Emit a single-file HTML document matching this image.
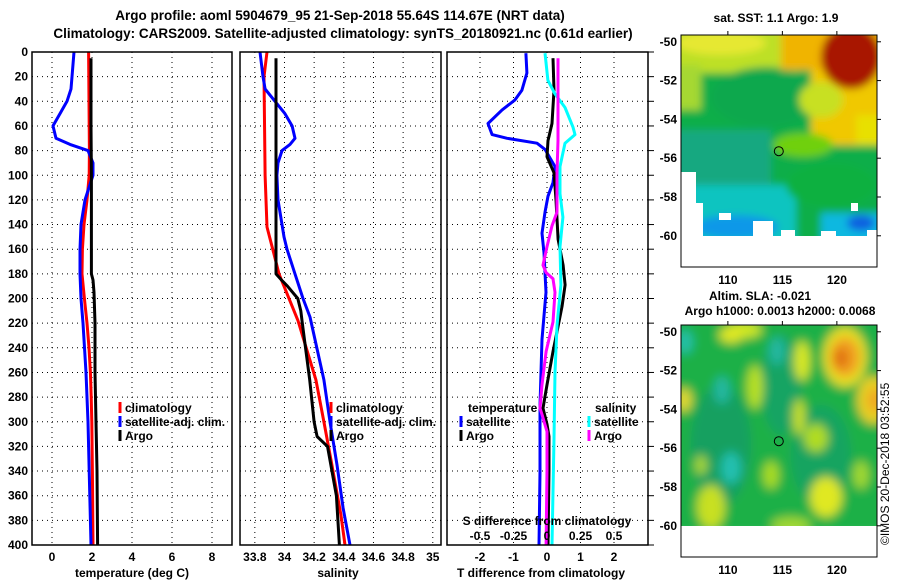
<!DOCTYPE html>
<html><head><meta charset="utf-8"><style>
html,body{margin:0;padding:0;background:#fff}
svg{display:block;font-family:"Liberation Sans",Arial,sans-serif;font-weight:bold}
text{fill:#000}
</style></head><body>
<svg id="fig" width="900" height="580" viewBox="0 0 900 580">
<defs>
<filter id="blur4" filterUnits="userSpaceOnUse" x="-30" y="-30" width="260" height="270"><feGaussianBlur stdDeviation="5"/></filter>
<filter id="blur3" filterUnits="userSpaceOnUse" x="-30" y="-30" width="260" height="270"><feGaussianBlur stdDeviation="4"/></filter>
<clipPath id="clip1"><rect x="0" y="0" width="196" height="201"/></clipPath>
<clipPath id="clip2"><rect x="0" y="0" width="196" height="201"/></clipPath>
</defs>
<text x="340" y="20" font-size="13.5" text-anchor="middle">Argo profile: aoml 5904679_95 21-Sep-2018 55.64S 114.67E (NRT data)</text>
<text x="343" y="38" font-size="13.5" text-anchor="middle">Climatology: CARS2009. Satellite-adjusted climatology: synTS_20180921.nc (0.61d earlier)</text>
<g id="plots"></g>

<!-- Map 1: SST -->
<text x="776" y="22" font-size="12" text-anchor="middle">sat. SST: 1.1 Argo: 1.9</text>
<g transform="translate(681,35)">
 <g clip-path="url(#clip1)">
 <g filter="url(#blur3)">
  <rect x="-10" y="-10" width="216" height="220" fill="#0cae4a"/>
  <rect x="-10" y="-10" width="125" height="48" fill="#bde028"/>
  <ellipse cx="40" cy="8" rx="45" ry="12" fill="#e6e830"/>
  <rect x="-10" y="30" width="30" height="45" fill="#a6d832"/>
  <ellipse cx="85" cy="62" rx="55" ry="30" fill="#0aa84e"/>
  <rect x="100" y="-10" width="110" height="45" fill="#f0b400"/>
  <rect x="130" y="35" width="80" height="75" fill="#f0c800"/>
  <ellipse cx="170" cy="22" rx="30" ry="32" fill="#a81400"/>
  <ellipse cx="140" cy="65" rx="22" ry="18" fill="#c8e020"/>
  <rect x="175" y="80" width="30" height="30" fill="#e8e000"/>
  <ellipse cx="122" cy="110" rx="30" ry="12" fill="#70d010"/>
  <rect x="-10" y="95" width="100" height="60" fill="#18a880"/>
  <rect x="-10" y="150" width="125" height="60" fill="#10c4c0"/>
  <ellipse cx="55" cy="192" rx="42" ry="12" fill="#1098e8"/>
  <rect x="140" y="178" width="70" height="30" fill="#10b8e0"/>
  <ellipse cx="180" cy="188" rx="14" ry="8" fill="#1060e0"/>
  <ellipse cx="150" cy="150" rx="45" ry="22" fill="#0cb040"/>
 </g>
 </g>
 <rect x="0" y="137" width="15" height="100" fill="#fff"/>
 <rect x="0" y="168" width="22" height="70" fill="#fff"/>
 <rect x="0" y="201" width="196" height="31" fill="#fff"/>
 <rect x="38" y="178" width="12" height="7" fill="#fff"/>
 <rect x="72" y="186" width="20" height="15" fill="#fff"/>
 <rect x="100" y="195" width="14" height="6" fill="#fff"/>
 <rect x="170" y="168" width="7" height="8" fill="#fff"/>
 <rect x="140" y="196" width="15" height="5" fill="#fff"/>
 <rect x="186" y="195" width="10" height="6" fill="#fff"/>
 <rect x="0" y="0" width="196" height="232" fill="none" stroke="#000" stroke-width="1"/>
 <circle cx="97.8" cy="116.2" r="4.5" fill="none" stroke="#000" stroke-width="1"/>
</g>

<!-- Map 2: SLA -->
<text x="760" y="300" font-size="12" text-anchor="middle">Altim. SLA: -0.021</text>
<text x="780" y="315" font-size="12" text-anchor="middle">Argo h1000: 0.0013 h2000: 0.0068</text>
<g transform="translate(681,325)">
 <g clip-path="url(#clip2)">
 <g filter="url(#blur4)">
  <rect x="-10" y="-10" width="216" height="220" fill="#1eb046"/>
  <ellipse cx="40" cy="120" rx="30" ry="60" fill="#14a060"/>
  <ellipse cx="140" cy="130" rx="30" ry="50" fill="#14a460"/>
  <ellipse cx="100" cy="60" rx="20" ry="50" fill="#14a464"/>
  <ellipse cx="164" cy="32" rx="22" ry="30" fill="#e8e020"/>
  <ellipse cx="164" cy="32" rx="15" ry="20" fill="#f0a020"/>
  <ellipse cx="160" cy="33" rx="7" ry="10" fill="#e07010"/>
  <ellipse cx="192" cy="75" rx="16" ry="24" fill="#e8d020"/>
  <ellipse cx="194" cy="75" rx="8" ry="12" fill="#f0a820"/>
  <ellipse cx="121" cy="36" rx="8" ry="20" fill="#d8e820"/>
  <ellipse cx="74" cy="62" rx="8" ry="22" fill="#b8e020"/>
  <ellipse cx="63" cy="5" rx="18" ry="8" fill="#d0e820"/>
  <ellipse cx="118" cy="92" rx="6" ry="18" fill="#c8e020"/>
  <ellipse cx="145" cy="172" rx="16" ry="20" fill="#e0e820"/>
  <ellipse cx="30" cy="182" rx="14" ry="22" fill="#c8e020"/>
  <ellipse cx="3" cy="75" rx="8" ry="12" fill="#e0d830"/>
  <ellipse cx="135" cy="113" rx="12" ry="14" fill="#b0dc20"/>
  <ellipse cx="90" cy="150" rx="8" ry="14" fill="#a8dc20"/>
  <ellipse cx="180" cy="150" rx="8" ry="14" fill="#a0d830"/>
  <ellipse cx="20" cy="140" rx="6" ry="10" fill="#a8d830"/>
  <ellipse cx="50" cy="143" rx="10" ry="16" fill="#20c0b0"/>
  <ellipse cx="4" cy="17" rx="8" ry="12" fill="#20c0a8"/>
  <ellipse cx="41" cy="65" rx="8" ry="14" fill="#20b8a0"/>
  <ellipse cx="96" cy="26" rx="8" ry="14" fill="#20b8a0"/>
  <ellipse cx="50" cy="10" rx="12" ry="8" fill="#e0e820"/>
  <ellipse cx="110" cy="200" rx="20" ry="8" fill="#a0d830"/>
 </g>
 </g>
 <rect x="0" y="201" width="196" height="31" fill="#fff"/>
 <rect x="0" y="0" width="196" height="232" fill="none" stroke="#000" stroke-width="1"/>
 <circle cx="97.8" cy="116.2" r="4.5" fill="none" stroke="#000" stroke-width="1"/>
</g>
<text transform="translate(889,545) rotate(-90)" font-size="12" font-weight="normal">©IMOS 20-Dec-2018 03:52:55</text>
</svg>
<script>
// ---- data ----
const climDepth = [0,20,40,60,80,100,120,140,160,180,200,220,240,260,280,300,340,400];
const climT = [1.83,1.84,1.85,1.86,1.87,1.86,1.75,1.6,1.52,1.5,1.62,1.75,1.85,1.92,1.96,1.99,2.02,2.05];
const satTDepth = [0,20,30,40,50,60,70,75,80,90,100,120,140,160,180,200,220,260,300,400];
const satT = [1.1,1.0,0.95,0.75,0.4,0.05,0.2,0.9,1.8,2.05,2.05,1.65,1.45,1.4,1.4,1.45,1.55,1.7,1.8,1.95];
const argoTDepth = [5,60,100,180,185,195,220,260,300,340,400];
const argoT = [1.95,1.95,1.97,1.97,2.05,2.1,2.15,2.15,2.2,2.25,2.28];

const climSDepth = [0,20,100,142,164,180,196,218,266,300,335,376,400];
const climS = [33.882,33.862,33.869,33.882,33.929,33.963,34.017,34.091,34.212,34.266,34.32,34.381,34.408];
const satSDepth = [0,20,30,40,50,60,70,75,80,90,100,120,140,150,160,180,200,215,266,300,335,370,400];
const satS = [33.835,33.855,33.869,33.936,34.003,34.051,34.071,34.037,33.983,33.956,33.949,33.956,33.983,33.997,34.017,34.071,34.125,34.172,34.266,34.307,34.354,34.395,34.442];
const argoSDepth = [5,180,185,190,200,210,220,266,300,312,320,360,400];
const argoS = [33.943,33.943,33.98,34.02,34.09,34.11,34.12,34.17,34.2,34.22,34.29,34.35,34.37];

const satDTDepth = [1,17,31,39,47,58,67,70,74,79,93,106,117,130,147,163,195,233,287,341,400];
const satDT = [-0.63,-0.6,-0.75,-0.96,-1.34,-1.76,-1.64,-1.19,-0.3,-0.06,0.24,0.18,0.03,-0.06,-0.15,-0.09,-0.03,-0.15,-0.21,-0.21,-0.24];
const argoDTDepth = [5,31,58,72,85,98,120,152,173,189,206,227,243,270,289,302,312,339,400];
const argoDT = [0.18,0.21,0.15,0.03,0,0.21,0.27,0.33,0.48,0.54,0.45,0.3,0.18,0,-0.12,0,0.06,0.06,0.03];
const satDSDepth = [1,23,34,45,61,67,74,93,115,134,158,189,222,260,314,400];
const satDS = [-0.015,0.007,0.06,0.134,0.194,0.209,0.134,0.097,0.097,0.119,0.097,0.104,0.075,0.06,0.052,0.037];
const argoDSDepth = [5,72,98,130,141,158,173,179,184,195,219,243,270,289,294,308,339,400];
const argoDS = [0.082,0.082,0.075,0.075,0.037,0,-0.03,-0.007,0.045,0.06,0.045,-0.007,-0.037,-0.052,-0.037,0,0,-0.007];

const depthTicks = [0,20,40,60,80,100,120,140,160,180,200,220,240,260,280,300,320,340,360,380,400];
const tempTicks = [0,2,4,6,8];
const salTicks = [33.8,34,34.2,34.4,34.6,34.8,35];
const salTickLabels = ["33.8","34","34.2","34.4","34.6","34.8","35"];
const dtTicks = [-2,-1,0,1,2];
const dsTicks = [-0.5,-0.25,0,0.25,0.5];
const dsTickLabels = ["-0.5","-0.25","0","0.25","0.5"];

// ---- axes ----
const yD = d => 52 + d * 1.2325;
const xT = t => 32 + (t + 1) * 20;
const xS = s => 240 + (s - 33.7) * 148.3;
const xDT = t => 547 + t * 33.5;
const xDS = s => 547 + s * 134;

const NS = "http://www.w3.org/2000/svg";
const root = document.getElementById('plots');
function mk(tag, attrs, parent) {
  const e = document.createElementNS(NS, tag);
  for (const k in attrs) e.setAttribute(k, attrs[k]);
  (parent || root).appendChild(e);
  return e;
}
function txt(x, y, s, size, anchor) {
  const t = mk('text', {x: x, y: y, 'font-size': size, 'text-anchor': anchor || 'middle'});
  t.textContent = s;
  return t;
}
function panel(x0, x1, name) {
  const g = mk('g', {});
  
  
  depthTicks.forEach(d => {
    if (d === 0 || d === 400) return;
    const l = mk('line', {x1: x0, x2: x1, y1: yD(d), y2: yD(d), stroke: '#000', 'stroke-width': 1, 'stroke-dasharray': '1,4'}, g);
    
    
  });
  return g;
}
function vgrid(g, x) {
  const l = mk('line', {x1: x, x2: x, y1: 52, y2: 545, stroke: '#000', 'stroke-width': 1, 'stroke-dasharray': '1,4'}, g);
  
  
}
function frame(g, x0, x1) {
  const r = mk('rect', {x: x0, y: 52, width: x1 - x0, height: 493, fill: 'none', stroke: '#000', 'stroke-width': 1.5}, g);
  
  
}
function line(g, xs, ds, fx, color, name) {
  const pts = xs.map((v, i) => fx(v).toFixed(1) + ',' + yD(ds[i]).toFixed(1)).join(' ');
  const p = mk('polyline', {points: pts, fill: 'none', stroke: color, 'stroke-width': 3, 'stroke-linejoin': 'round'}, g);
  
  
}
function legend(x, y, color, label, name) {
  const m = mk('line', {x1: x, x2: x, y1: y - 10, y2: y + 1, stroke: color, 'stroke-width': 3});
  
  
  const t = txt(x + 5, y, label, 12, 'start');
  
  
}

// Panel 1: temperature
const g1 = panel(32, 232, 'temperature-panel');
tempTicks.forEach(t => { vgrid(g1, xT(t)); const l = txt(xT(t), 561, String(t), 12);   });
depthTicks.forEach(d => { const l = txt(28, yD(d) + 4, String(d), 12, 'end');   });
line(g1, climT, climDepth, xT, '#ff0000', 'climatology-temperature-line');
line(g1, satT, satTDepth, xT, '#0000ff', 'satellite-temperature-line');
line(g1, argoT, argoTDepth, xT, '#000000', 'argo-temperature-line');
frame(g1, 32, 232);
const xl1 = txt(132, 577, 'temperature (deg C)', 12);


legend(120, 412, '#ff0000', 'climatology', 'legend-climatology-temperature');
legend(120, 426, '#0000ff', 'satellite-adj. clim.', 'legend-satellite-temperature');
legend(120, 440, '#000000', 'Argo', 'legend-argo-temperature');

// Panel 2: salinity
const g2 = panel(240, 441, 'salinity-panel');
salTicks.forEach((s, i) => { vgrid(g2, xS(s)); const l = txt(xS(s), 561, salTickLabels[i], 12);   });
line(g2, climS, climSDepth, xS, '#ff0000', 'climatology-salinity-line');
line(g2, satS, satSDepth, xS, '#0000ff', 'satellite-salinity-line');
line(g2, argoS, argoSDepth, xS, '#000000', 'argo-salinity-line');
frame(g2, 240, 441);
const xl2 = txt(338, 577, 'salinity', 12);


legend(331, 412, '#ff0000', 'climatology', 'legend-climatology-salinity');
legend(331, 426, '#0000ff', 'satellite-adj. clim.', 'legend-satellite-salinity');
legend(331, 440, '#000000', 'Argo', 'legend-argo-salinity');

// Panel 3: differences
const g3 = panel(447, 648, 'difference-panel');
dtTicks.forEach(t => { vgrid(g3, xDT(t)); const l = txt(xDT(t), 561, String(t), 12);   });
line(g3, satDT, satDTDepth, xDT, '#0000ff', 'satellite-t-difference-line');
line(g3, argoDT, argoDTDepth, xDT, '#000000', 'argo-t-difference-line');
line(g3, satDS, satDSDepth, xDS, '#00ffff', 'satellite-s-difference-line');
line(g3, argoDS, argoDSDepth, xDS, '#ff00ff', 'argo-s-difference-line');
frame(g3, 447, 648);
for (let i = 0; i < depthTicks.length; i++) {
  const tk = mk('line', {x1: 648, x2: 654, y1: yD(depthTicks[i]), y2: yD(depthTicks[i]), stroke: '#000', 'stroke-width': 1});
  
  
}
const xl3 = txt(541, 577, 'T difference from climatology', 12);


const st = txt(547, 525, 'S difference from climatology', 12);


dsTicks.forEach((s, i) => { const l = txt(xDS(s), 540, dsTickLabels[i], 12);   });
const th = txt(468, 412, 'temperature', 12, 'start');


const sh = txt(595, 412, 'salinity', 12, 'start');


legend(461, 426, '#0000ff', 'satellite', 'legend-satellite-t-diff');
legend(461, 440, '#000000', 'Argo', 'legend-argo-t-diff');
legend(589, 426, '#00ffff', 'satellite', 'legend-satellite-s-diff');
legend(589, 440, '#ff00ff', 'Argo', 'legend-argo-s-diff');

// Map axes
const lonTicks = [110, 115, 120];
const latTicks = [-50, -52, -54, -56, -58, -60];
const xLon = l => 681 + (l - 105.7) * 10.9;
const yLat = (l, off) => off + (-49.65 - l) * 19.4;
[35, 325].forEach((off, mi) => {
  latTicks.forEach(l => {
    const y = yLat(l, off);
    const t = txt(677, y + 4, String(l), 12, 'end');
    
    
    const a = mk('line', {x1: 877, x2: 881, y1: y, y2: y, stroke: '#000'});
    
    
  });
  lonTicks.forEach(l => {
    const x = xLon(l);
    const t = txt(x, off + 249, String(l), 12);
    
    
    const a = mk('line', {x1: x, x2: x, y1: off, y2: off - 4, stroke: '#000'});
    
    
  });
});
</script>
</body></html>
